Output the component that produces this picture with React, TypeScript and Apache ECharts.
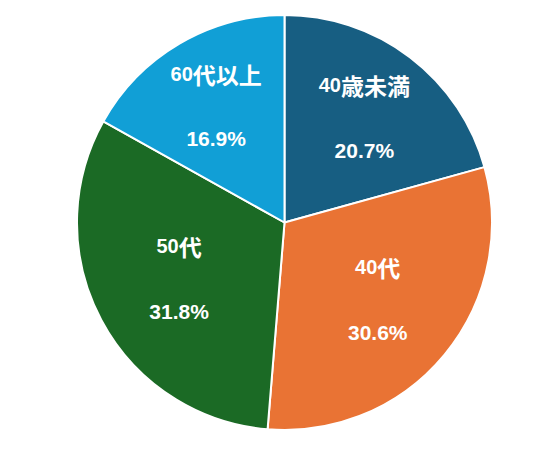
import { useEffect, useRef } from "react";
import * as echarts from "echarts";

const categories = ["40歳未満", "40代", "50代", "60代以上"];
const shares = [20.7, 30.6, 31.8, 16.9];
const colors = ["#175e82", "#e97334", "#1b6a25", "#119fd6"];

const CENTER = [284.5, 222.5];
const RADIUS = 207.5;

// 扇形の重心までの距離
const centroidDist = (share: number) => {
  const a = (2 * Math.PI * share) / 100;
  return (4 * RADIUS * Math.sin(a / 2)) / (3 * a);
};

const baseText = {
  color: "#ffffff",
  fontWeight: "bold",
  lineHeight: 65,
};

const nameRich = (name: string) => {
  const m = name.match(/^(\d+)(.*)$/);
  if (!m) return `{kan|${name}}`;
  return `{num|${m[1]}}{kan|${m[2]}}`;
};

const App = () => {
  const chartRef = useRef(null);

  useEffect(() => {
    document.body.style.margin = "0";
    const chart = echarts.init(chartRef.current, null, { renderer: "svg" });

    const pieSeries = {
      type: "pie",
      center: CENTER,
      radius: [0, RADIUS],
      startAngle: 90,
      clockwise: true,
      label: { show: false },
      labelLine: { show: false },
      itemStyle: { borderColor: "#ffffff", borderWidth: 2 },
      data: categories.map((name, i) => ({
        name,
        value: shares[i],
        itemStyle: { color: colors[i] },
      })),
    };

    // ラベル用の透明な円（各扇形の重心にラベルを置く）
    const labelSeries = categories.map((_, k) => ({
      type: "pie",
      center: CENTER,
      radius: [0, 2 * centroidDist(shares[k])],
      startAngle: 90,
      clockwise: true,
      silent: true,
      itemStyle: { color: "transparent" },
      labelLine: { show: false },
      label: {
        show: true,
        position: "inside",
        formatter: (p) => `${nameRich(p.name)}\n{pct|${p.value.toFixed(1)}%}`,
        rich: {
          num: {
            ...baseText,
            fontFamily: "'Liberation Sans'",
            fontSize: 20,
          },
          kan: {
            ...baseText,
            fontFamily: "'Noto Sans CJK JP'",
            fontSize: 23,
          },
          pct: {
            ...baseText,
            fontFamily: "'Liberation Sans'",
            fontSize: 21,
          },
        },
      },
      data: categories.map((name, i) => ({
        name,
        value: shares[i],
        label: { show: i === k },
      })),
    }));

    const option: any = {
      animation: false,
      series: [pieSeries, ...labelSeries],
    };

    chart.setOption(option);

    return () => {
      chart.dispose();
    };
  }, []);

  return <div ref={chartRef} style={{ width: "557px", height: "450px" }} />;
};

export default App;
